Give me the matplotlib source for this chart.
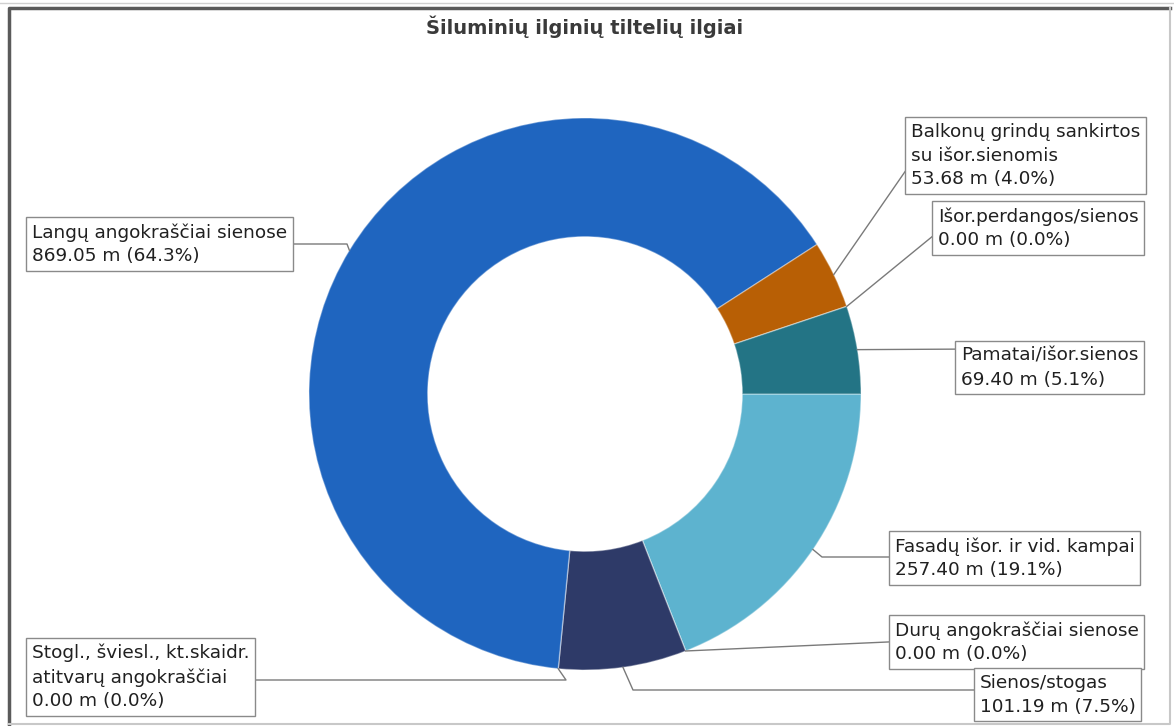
import numpy as np
import matplotlib.pyplot as plt

# tiltelių tipai, pagal laikrodžio rodyklę nuo 3 val. padėties
names = [
    "Fasadų išor. ir vid. kampai",
    "Durų angokraščiai sienose",
    "Sienos/stogas",
    "Stogl., šviesl., kt.skaidr.\natitvarų angokraščiai",
    "Langų angokraščiai sienose",
    "Balkonų grindų sankirtos\nsu išor.sienomis",
    "Išor.perdangos/sienos",
    "Pamatai/išor.sienos",
]
lengths = [257.40, 0.00, 101.19, 0.00, 869.05, 53.68, 0.00, 69.40]
colors = ["#5db3cf", "#5db3cf", "#2e3a68", "#2e3a68",
          "#1f65bf", "#b85f05", "#b85f05", "#237485"]

# label box top-left and leader line elbows (pixels); line ends hide under boxes
text_xy = [(895, 537), (895, 621), (980, 674), (32, 644),
           (32, 223), (911, 123), (938, 207), (961, 347)]
elbows = [[(822, 557), (910, 557)],
          [(910, 641)],
          [(633, 690), (1000, 690)],
          [(566, 680), (200, 680)],
          [(347, 244), (250, 244)],
          [(920, 150)],
          [(950, 222)],
          [(980, 349)]]

cx, cy, R = 585, 394, 276
total = sum(lengths)

fig = plt.figure(figsize=(11.74, 7.26), dpi=100)
ax = fig.add_axes([0, 0, 1, 1])

# y axis is flipped below, so counterclock=True turns clockwise on screen
wedges, _ = ax.pie(lengths, colors=colors, startangle=0, counterclock=True,
                   center=(cx, cy), radius=R, frame=True,
                   wedgeprops=dict(width=R * 0.43, edgecolor=(1, 1, 1, 0.35),
                                   linewidth=1))
ax.set_xlim(0, 1174)
ax.set_ylim(726, 0)
ax.set_aspect("equal")
ax.axis("off")

for w, name, v, txy, elb in zip(wedges, names, lengths, text_xy, elbows):
    ang = np.deg2rad((w.theta1 + w.theta2) / 2)
    ex, ey = cx + R * np.cos(ang), cy + R * np.sin(ang)
    pts = [(ex, ey)] + elb
    ax.plot([p[0] for p in pts], [p[1] for p in pts], color="#7a7a7a",
            lw=1, zorder=1)
    label = f"{name}\n{v:.2f} m ({v / total * 100:.1f}%)"
    ax.text(txy[0], txy[1], label, ha="left", va="top", fontsize=13.3,
            color="#202020", linespacing=1.4, zorder=5,
            bbox=dict(boxstyle="square,pad=0.3", fc="white", ec="#8a8a8a",
                      lw=1))

ax.text(cx, 27, "Šiluminių ilginių tiltelių ilgiai", ha="center",
        va="center", fontsize=14, fontweight="bold", color="#3a3a3a")

# window-like frame around the chart
ax.plot([9, 9, 1170], [724, 8, 8], color="#5a5a5a", lw=2.5, zorder=6)
ax.plot([1170, 1170, 9], [8, 724, 724], color="#c8c8c8", lw=1.5, zorder=6)
ax.plot([0, 1174], [3, 3], color="#d0d0d0", lw=1, zorder=6)

fig.savefig("out.png", dpi=100)
